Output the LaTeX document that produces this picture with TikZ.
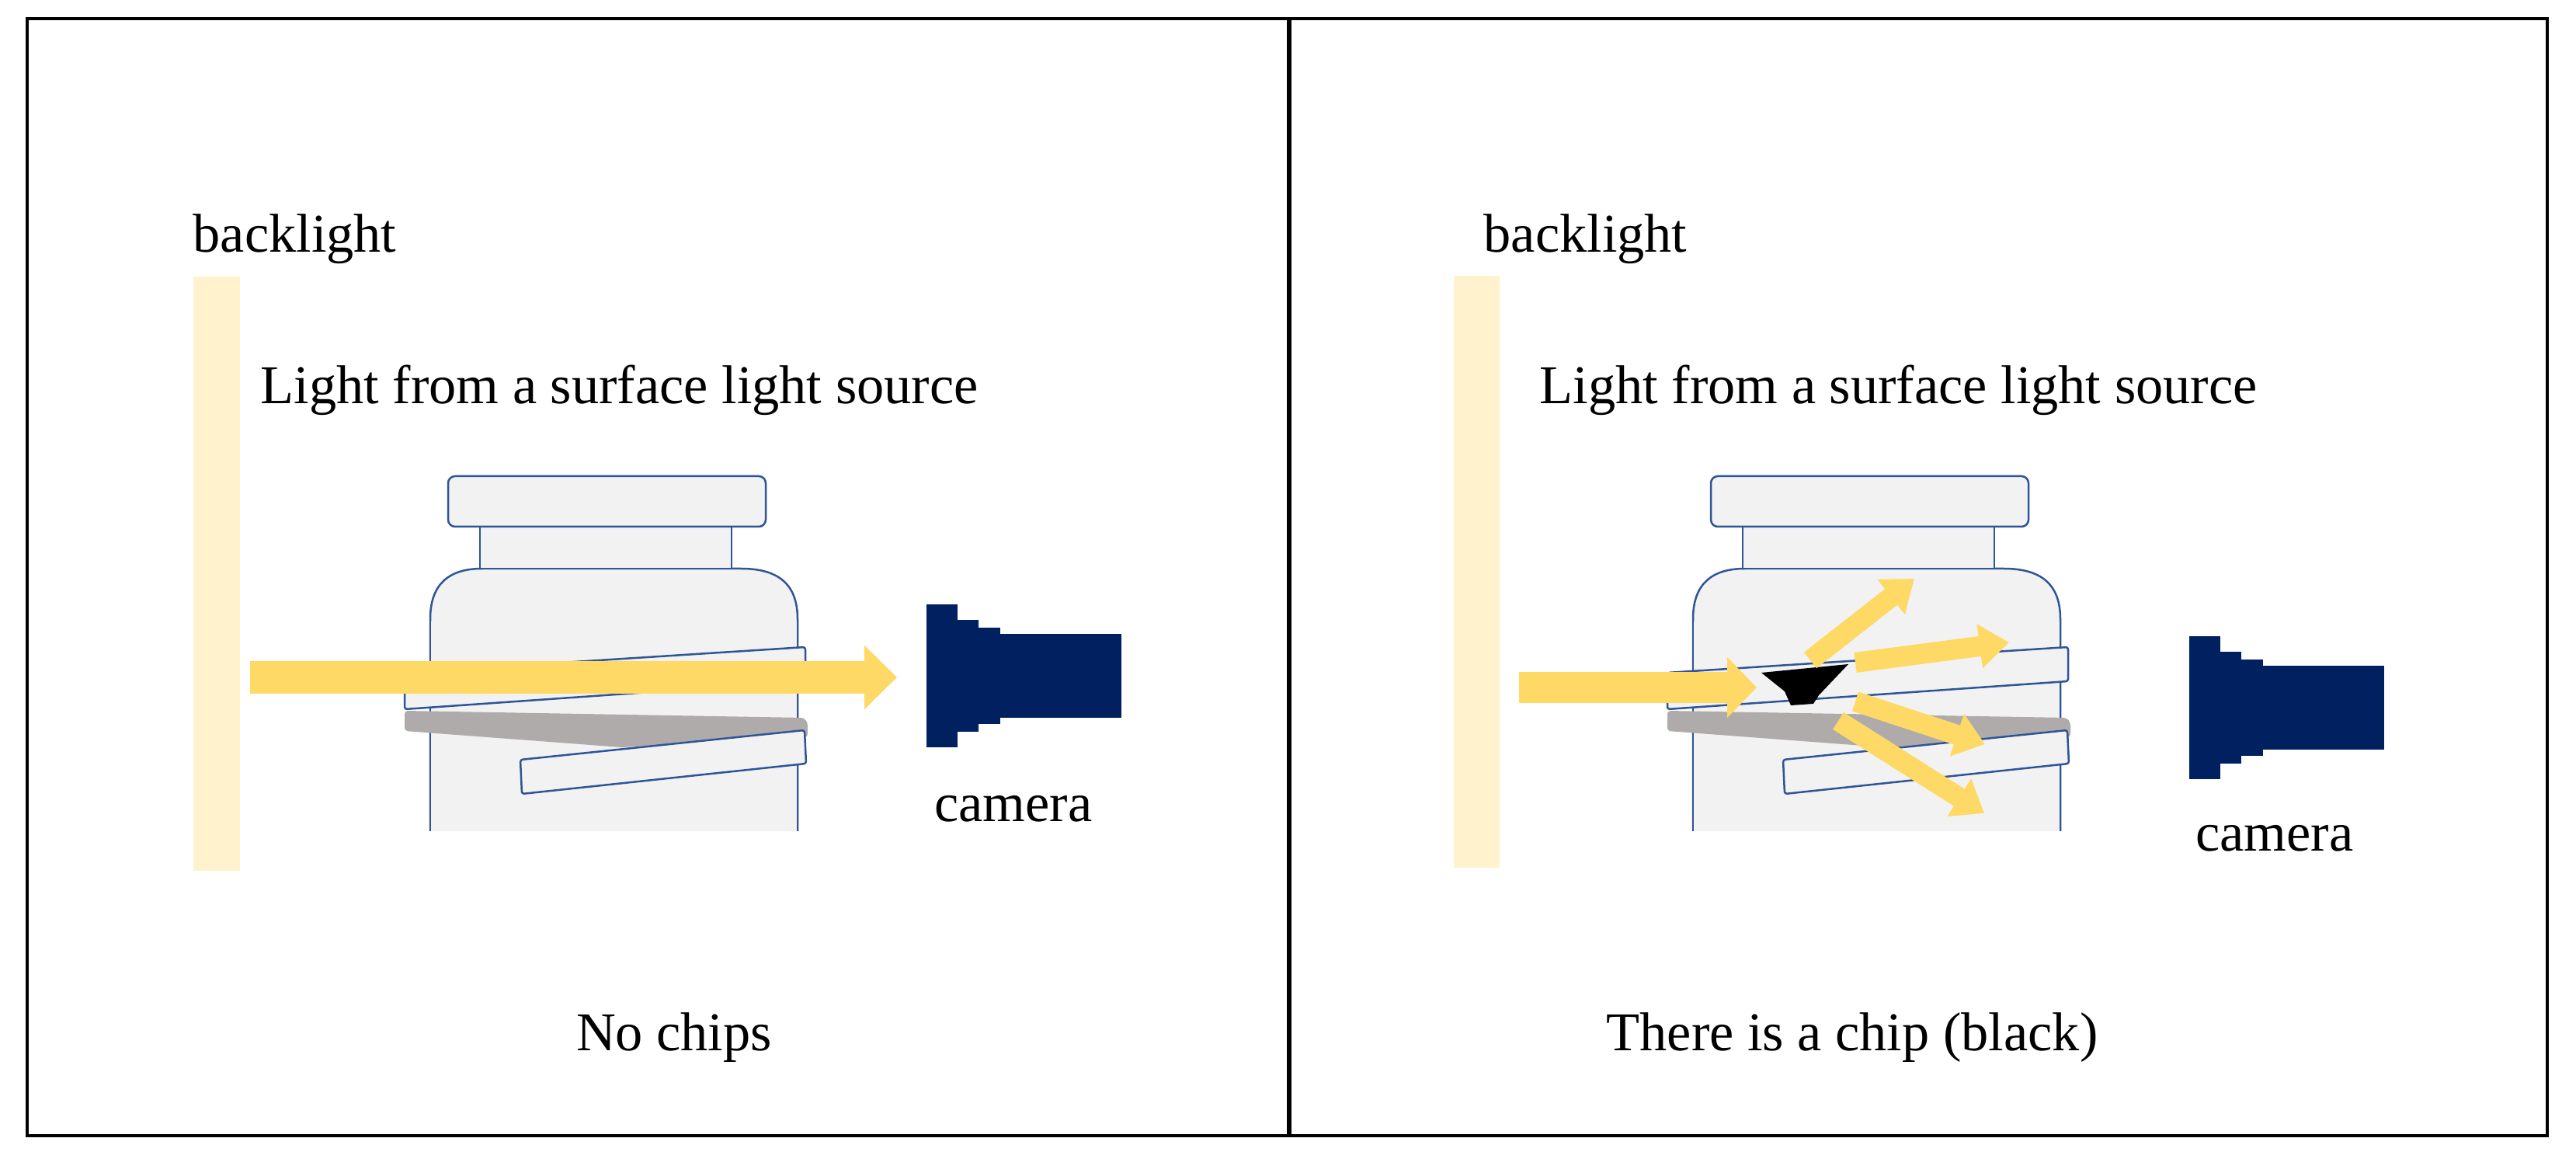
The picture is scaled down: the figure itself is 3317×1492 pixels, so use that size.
\documentclass[tikz,border=0pt]{standalone}
\usepackage{fontspec}
\setmainfont{Liberation Serif}
\usetikzlibrary{arrows.meta}
\definecolor{bl}{HTML}{FFF2CC}
\definecolor{ar}{HTML}{FFD966}
\definecolor{bf}{HTML}{F2F2F2}
\definecolor{bs}{HTML}{2F5597}
\definecolor{gr}{HTML}{AFABAB}
\definecolor{cam}{HTML}{002060}
\tikzset{
  lbl/.style={font=\fontsize{20pt}{24pt}\selectfont, inner sep=0pt},
  part/.style={fill=bf, draw=bs, line width=0.025cm},
  band/.style={part, rounded corners=0.03cm},
  bigray/.style={ar, line width=0.41cm, -{Triangle[length=0.42cm,width=0.8cm]}},
  smallray/.style={ar, line width=0.26cm, -{Triangle[length=0.38cm,width=0.55cm]}},
}
\newcommand{\bottlebody}{%
  \path[part] (554,1070) -- (554,797) .. controls (554,750) and (580,732) .. (621,732)
     -- (954,732) .. controls (1000,732) and (1027,750) .. (1027,797) -- (1027,1070);
  \fill[bf] (554,1070) -- (1027,1070) -- (1027,800) -- (554,800) -- cycle;
  \draw[bs, line width=0.025cm] (554,800) -- (554,1070) (1027,800) -- (1027,1070);
  \path[part] (618,678) rectangle (942,732);
  \path[part, rounded corners=0.09cm] (577,613) rectangle (986,678);
  \path[band] (521,866) -- (1037,833) -- (1037,877) -- (521,913) -- cycle;
  \fill[gr, rounded corners=0.04cm] (521,915) -- (1035,924) -- (1040,930) -- (1040,949) -- (800,962) -- (521,941) -- cycle;
  \path[band] (670,978) -- (1036,940) -- (1038,983) -- (672,1022) -- cycle;
}
\newcommand{\camerashape}{%
  \fill[cam] (1193,778) rectangle (1233,962);
  \fill[cam] (1232,798) rectangle (1260,942);
  \fill[cam] (1259,808) rectangle (1288,932);
  \fill[cam] (1287,816) rectangle (1444,924);
}
\begin{document}
\begin{tikzpicture}[x=0.01cm, y=-0.01cm]
\useasboundingbox (0,0) rectangle (3317,1492);
\fill[white] (0,0) rectangle (3317,1492);
% frame
\draw[line width=0.04cm] (35,24) rectangle (3280,1462);
\draw[line width=0.06cm] (1660,24) -- (1660,1462);

% ---- left panel ----
\fill[bl] (249,356) rectangle (309,1121);
\node[lbl, anchor=base west] (bl1) at (248,325) {backlight};
\node[lbl, anchor=base west] (ls1) at (335,520) {Light from a surface light source};
\bottlebody
\draw[bigray] (322,872) -- (1155,872);
\camerashape
\node[lbl, anchor=base] (cam1) at (1305,1058) {camera};
\node[lbl, anchor=base] (t1) at (868,1353) {No chips};

% ---- right panel ----
\fill[bl] (1872,355) rectangle (1931,1117);
\node[lbl, anchor=base west] (bl2) at (1910,325) {backlight};
\node[lbl, anchor=base west] (ls2) at (1982,520) {Light from a surface light source};
\begin{scope}[shift={(1626,0)}]
\bottlebody
\end{scope}
\draw[bigray, line width=0.39cm, -{Triangle[length=0.38cm,width=0.76cm]}] (1956,885) -- (2262,885);
\fill[black] (2268,866) -- (2380,855) -- (2342,895) -- (2335,906) -- (2306,908) -- (2298,890) -- cycle;
\draw[smallray] (2331,850) -- (2465,745);
\draw[smallray] (2389,853) -- (2587,827);
\draw[smallray] (2389,903) -- (2556,958);
\draw[smallray] (2367,928) -- (2555,1047);
\begin{scope}[shift={(1626,41)}]
\camerashape
\end{scope}
\node[lbl, anchor=base] (cam2) at (2929,1096) {camera};
\node[lbl, anchor=base] (t2) at (2385,1353) {There is a chip (black)};
\end{tikzpicture}
\end{document}
